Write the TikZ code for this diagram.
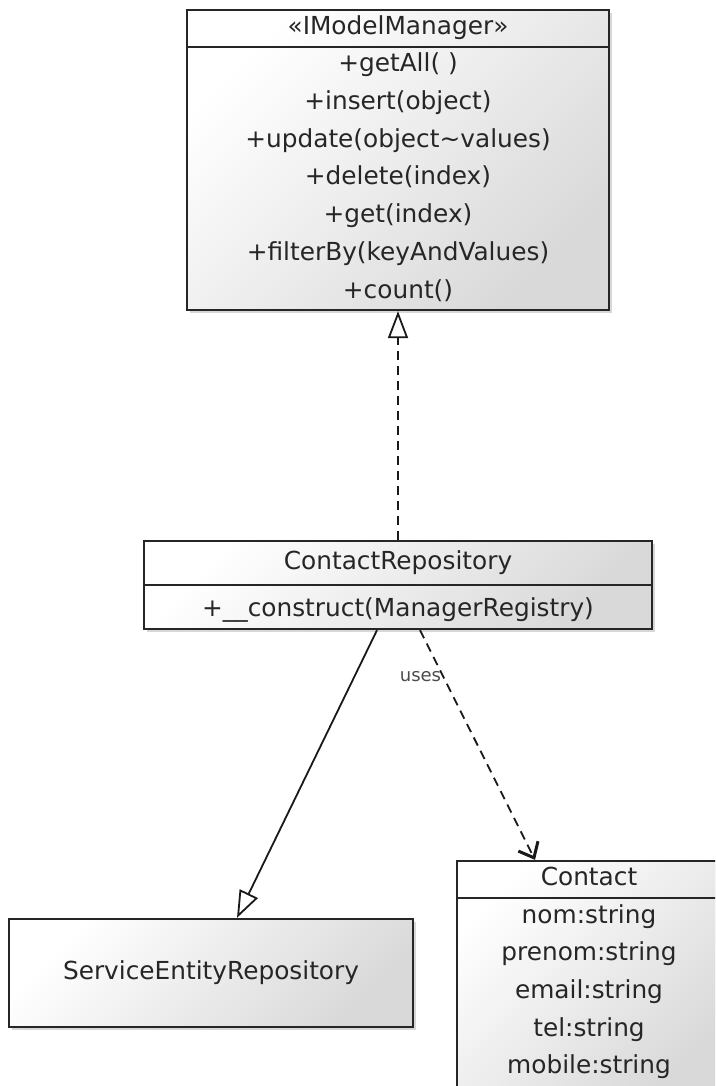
\documentclass[tikz,border=0pt]{standalone}
\usepackage{fontspec}
\setmainfont{DejaVu Sans}
\usetikzlibrary{arrows.meta,shadows,calc}
\begin{document}
\begin{tikzpicture}[x=1pt,y=-1pt,
  umlbox/.style={draw=black!85, line width=2.3pt, top color=white, bottom color=black!15,
    shading angle=45, inner sep=0pt,
    drop shadow={shadow xshift=2.5pt, shadow yshift=-3pt, opacity=0.22, fill=black!70}},
  divider/.style={draw=black!85, line width=2.3pt},
  txt/.style={font=\fontsize{24.8}{28}\selectfont, text=black!85, inner sep=0pt,
    text height=17pt, text depth=2pt},
  lbl/.style={font=\fontsize{18}{21}\selectfont, text=black!70, inner sep=1pt},
  real/.style={draw=black!90, line width=1.8pt, dash pattern=on 9pt off 6pt,
    -{Triangle[open, length=27pt, width=20pt, line width=1.8pt, fill=white]}},
  gen/.style={draw=black!90, line width=1.8pt,
    -{Triangle[open, length=27pt, width=20pt, line width=1.8pt, fill=white]}},
  dep/.style={draw=black!90, line width=1.8pt, dash pattern=on 9pt off 6pt,
    -{Straight Barb[length=13pt, width=22pt, line width=3pt]}}
]
\useasboundingbox (0,0) rectangle (715,1086);
\clip (0,0) rectangle (715,1086);
\fill[white] (0,0) rectangle (715,1086);

% IModelManager
\node[umlbox, minimum width=422pt, minimum height=300pt] (imm) at (398,160) {};
\draw[divider] (imm.west |- 0,47) -- (imm.east |- 0,47);
\node[txt] (immT) at (398,27) {«IModelManager»};
\node[txt] (imm1) at (398,64) {+getAll( )};
\node[txt] (imm2) at (398,102) {+insert(object)};
\node[txt] (imm3) at (398,140) {+update(object\textasciitilde values)};
\node[txt] (imm4) at (398,177) {+delete(index)};
\node[txt] (imm5) at (398,215) {+get(index)};
\node[txt] (imm6) at (398,253) {+filterBy(keyAndValues)};
\node[txt] (imm7) at (398,291) {+count()};

% ContactRepository
\node[umlbox, minimum width=508pt, minimum height=88pt] (crep) at (398,585) {};
\draw[divider] (crep.west) -- (crep.east);
\node[txt] (crepT) at (398,562) {ContactRepository};
\node[txt] (crep1) at (398,609) {+\_\_construct(ManagerRegistry)};

% ServiceEntityRepository
\node[umlbox, minimum width=404pt, minimum height=108pt] (ser) at (211,973) {};
\node[txt] (serT) at (211,972) {ServiceEntityRepository};

% Contact
\node[umlbox, minimum width=264pt, minimum height=239pt] (contact) at (589,980.5) {};
\draw[divider] (contact.west |- 0,898) -- (contact.east |- 0,898);
\node[txt] (conT) at (589,878) {Contact};
\node[txt] (con1) at (589,916) {nom:string};
\node[txt] (con2) at (589,953) {prenom:string};
\node[txt] (con3) at (589,991) {email:string};
\node[txt] (con4) at (589,1029) {tel:string};
\node[txt] (con5) at (589,1066) {mobile:string};

% connectors
\draw[real] (crep.north) -- (imm.south);
\draw[gen] ([xshift=-21pt]crep.south) -- ([xshift=26pt]ser.north);
\draw[dep] ([xshift=22pt]crep.south) -- node[lbl, pos=0.2, anchor=east] (uses) {uses} ([xshift=-54pt]contact.north);
\end{tikzpicture}
\end{document}
